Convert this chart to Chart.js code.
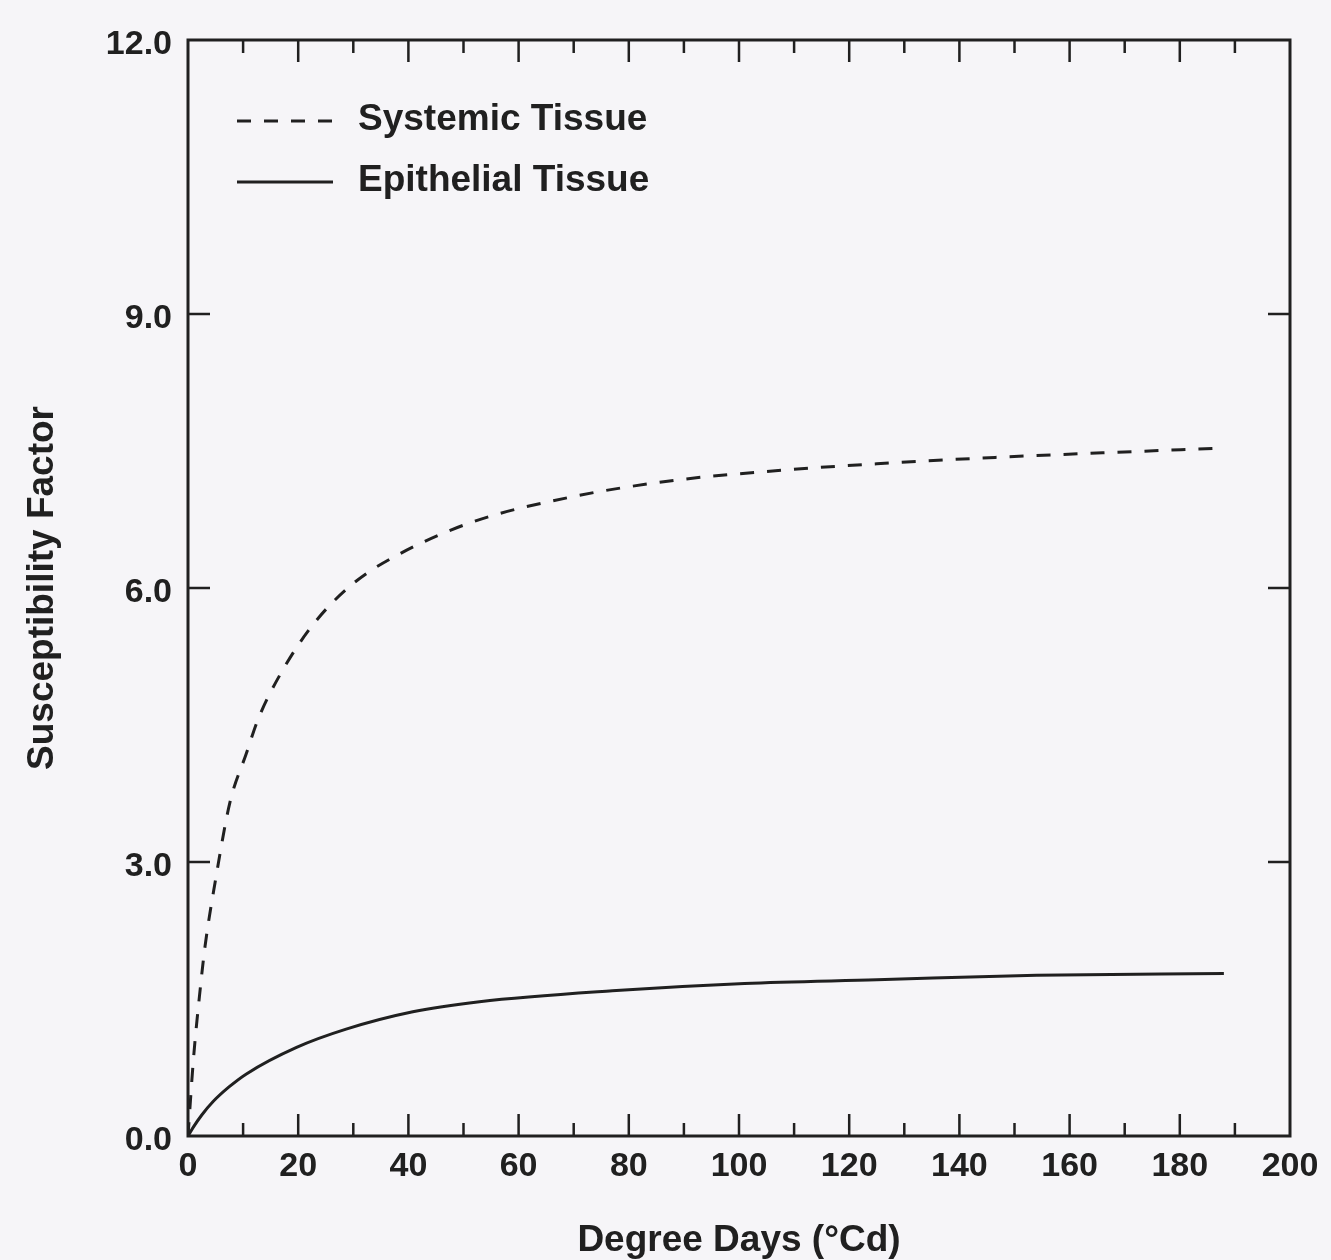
<!DOCTYPE html>
<html>
<head>
<meta charset="utf-8">
<script src="https://cdn.jsdelivr.net/npm/chart.js@4/dist/chart.umd.min.js"></script>
<style>
  html, body { margin: 0; padding: 0; background: #f6f5f8; }
  canvas { display: block; }
</style>
</head>
<body>
<canvas id="susChart" width="1331" height="1260"></canvas>
<script>
'use strict';

// data -----------------------------------------------------------------------
let systemicX = [0, 1, 2.2, 3.1, 4.9, 7.6, 10.6, 12.7, 16.7, 22.7, 30, 38, 51.5, 69, 88.5, 108, 125, 146.5, 166, 187];
let systemicY = [0, 0.85, 1.6, 2.08, 2.77, 3.65, 4.19, 4.56, 5.05, 5.6, 6.05, 6.36, 6.72, 6.99, 7.18, 7.29, 7.36, 7.43, 7.48, 7.53];
let epithelialX = [0, 1, 2.5, 4.6, 7.5, 10.6, 19.7, 28.7, 40.8, 52.9, 77, 101, 125, 154, 188];
let epithelialY = [0, 0.1, 0.23, 0.38, 0.54, 0.68, 0.97, 1.17, 1.36, 1.47, 1.59, 1.67, 1.71, 1.76, 1.78];

let xTicks = [0, 20, 40, 60, 80, 100, 120, 140, 160, 180, 200];
let xMinorTicks = [10, 30, 50, 70, 90, 110, 130, 150, 170, 190];
let yTicks = [0, 3, 6, 9, 12];

let ink = '#202020';
let fontName = '"Liberation Sans", Arial, Helvetica, sans-serif';

function toPoints(xs, ys) {
  let pts = [];
  for (let i = 0; i < xs.length; i++) {
    pts.push({ x: xs[i], y: ys[i] });
  }
  return pts;
}

// frame, inward ticks and the legend inside the plot
let framePlugin = {
  id: 'framePlugin',
  afterDraw(chart) {
    let ctx = chart.ctx;
    let a = chart.chartArea;
    let x = chart.scales.x;
    let y = chart.scales.y;
    ctx.save();
    ctx.strokeStyle = ink;
    ctx.lineWidth = 3;
    ctx.strokeRect(a.left, a.top, a.right - a.left, a.bottom - a.top);

    ctx.lineWidth = 2.5;
    ctx.beginPath();
    xTicks.slice(1, -1).forEach(v => {
      let px = x.getPixelForValue(v);
      ctx.moveTo(px, a.bottom); ctx.lineTo(px, a.bottom - 22);
      ctx.moveTo(px, a.top); ctx.lineTo(px, a.top + 22);
    });
    xMinorTicks.forEach(v => {
      let px = x.getPixelForValue(v);
      ctx.moveTo(px, a.bottom); ctx.lineTo(px, a.bottom - 13);
      ctx.moveTo(px, a.top); ctx.lineTo(px, a.top + 13);
    });
    yTicks.slice(1, -1).forEach(v => {
      let py = y.getPixelForValue(v);
      ctx.moveTo(a.left, py); ctx.lineTo(a.left + 22, py);
      ctx.moveTo(a.right, py); ctx.lineTo(a.right - 22, py);
    });
    ctx.stroke();

    // legend
    let lx = a.left + 49;
    let ly = a.top + 81;
    chart.data.datasets.forEach((ds, i) => {
      let rowY = ly + i * 61;
      ctx.lineWidth = 3;
      ctx.setLineDash(ds.borderDash || []);
      ctx.beginPath();
      ctx.moveTo(lx, rowY);
      ctx.lineTo(lx + 96, rowY);
      ctx.stroke();
      ctx.setLineDash([]);
      ctx.fillStyle = ink;
      ctx.font = 'bold 37px ' + fontName;
      ctx.textBaseline = 'middle';
      ctx.fillText(ds.label, lx + 121, rowY - 1);
    });
    ctx.restore();
  }
};

let chartObject = {
  type: 'line',
  data: {
    datasets: [{
      label: 'Systemic Tissue',
      data: toPoints(systemicX, systemicY),
      borderColor: ink,
      borderWidth: 3,
      borderDash: [14, 13],
      pointRadius: 0,
      cubicInterpolationMode: 'monotone',
      fill: false
    },
    {
      label: 'Epithelial Tissue',
      data: toPoints(epithelialX, epithelialY),
      borderColor: ink,
      borderWidth: 3,
      pointRadius: 0,
      cubicInterpolationMode: 'monotone',
      fill: false
    }]
  },
  options: {
    responsive: false,
    devicePixelRatio: 1,
    animation: false,
    layout: { padding: { left: 0, top: 40, right: 41, bottom: 0 } },
    plugins: {
      legend: { display: false },
      tooltip: { enabled: false }
    },
    scales: {
      x: {
        type: 'linear',
        min: 0,
        max: 200,
        afterBuildTicks: s => { s.ticks = xTicks.map(v => ({ value: v })); },
        afterFit: s => { s.height = 124; },
        grid: { display: false, drawTicks: false },
        border: { display: false },
        ticks: {
          color: ink,
          padding: 10,
          maxRotation: 0,
          font: { family: fontName, size: 34, weight: 'bold' }
        },
        title: {
          display: true,
          text: 'Degree Days (°Cd)',
          color: ink,
          padding: { top: 0, bottom: 1 },
          font: { family: fontName, size: 37, weight: 'bold', lineHeight: 1 }
        }
      },
      y: {
        min: 0,
        max: 12,
        afterBuildTicks: s => { s.ticks = yTicks.map(v => ({ value: v })); },
        afterFit: s => { s.width = 188; },
        grid: { display: false, drawTicks: false },
        border: { display: false },
        ticks: {
          color: ink,
          padding: 16,
          labelOffset: 5,
          font: { family: fontName, size: 34, weight: 'bold' },
          callback: v => v.toFixed(1)
        },
        title: {
          display: true,
          text: 'Susceptibility Factor',
          color: ink,
          padding: { top: 21, bottom: 0 },
          font: { family: fontName, size: 37, weight: 'bold' }
        }
      }
    }
  },
  plugins: [framePlugin]
};

let ctx = document.getElementById('susChart').getContext('2d');
let myChart = new Chart(ctx, chartObject);
</script>
</body>
</html>
